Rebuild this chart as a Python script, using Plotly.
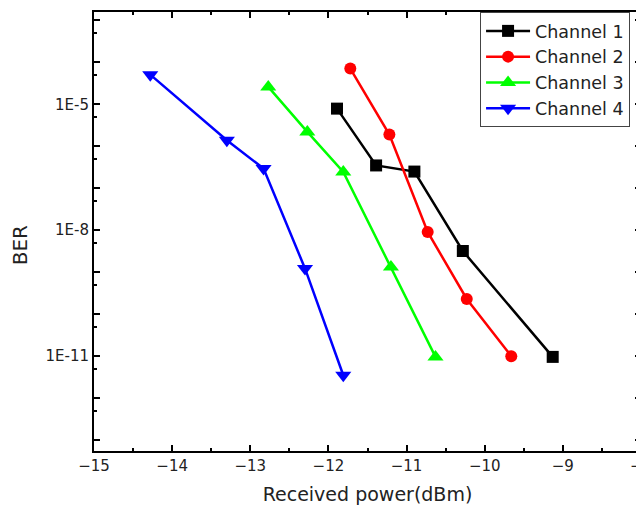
import plotly.graph_objects as go

# Data
ch1_x = [-11.89, -11.39, -10.9, -10.28, -9.13]
ch1_y = [7.9e-6, 3.5e-7, 2.5e-7, 3.2e-9, 9.6e-12]
ch2_x = [-11.72, -11.22, -10.73, -10.23, -9.66]
ch2_y = [7.1e-5, 1.9e-6, 9.1e-9, 2.3e-10, 1.0e-11]
ch3_x = [-12.77, -12.27, -11.81, -11.2, -10.63]
ch3_y = [2.6e-5, 2.2e-6, 2.45e-7, 1.34e-9, 9.6e-12]
ch4_x = [-14.28, -13.3, -12.83, -12.3, -11.81]
ch4_y = [5.1e-5, 1.39e-6, 2.95e-7, 1.23e-9, 3.5e-12]

names = ["Channel 1", "Channel 2", "Channel 3", "Channel 4"]
colors = ["#000000", "#ff0000", "#00ff00", "#0000ff"]
symbols = ["square", "circle", "triangle-up", "triangle-down"]
msizes = [12, 12, 14, 14]

x_ticks = [-15, -14, -13, -12, -11, -10, -9, -8]
y_decades = [10.0 ** e for e in range(-13, -2)]
y_labels = {-5: "1E-5", -8: "1E-8", -11: "1E-11"}
y_ticktext = [y_labels.get(e, "") for e in range(-13, -2)]
y_minor = [5 * 10.0 ** e for e in range(-14, -2)]

fig = go.Figure()
for xs, ys, n, c, s, ms in zip([ch1_x, ch2_x, ch3_x, ch4_x],
                               [ch1_y, ch2_y, ch3_y, ch4_y],
                               names, colors, symbols, msizes):
    fig.add_trace(go.Scatter(x=xs, y=ys, name=n, mode="lines+markers",
                             line=dict(color=c, width=2.5),
                             marker=dict(symbol=s, size=ms, color=c)))

font = "DejaVu Sans, sans-serif"
fig.update_layout(
    width=636, height=501,
    margin=dict(l=86, r=3, t=4, b=58),
    plot_bgcolor="white", paper_bgcolor="white",
    font=dict(family=font, size=15, color="#222"),
    showlegend=True,
    legend=dict(x=0.980, y=1.0, xanchor="right", yanchor="top",
                bgcolor="white", bordercolor="#444", borderwidth=1,
                font=dict(size=17.5, color="#222"), itemwidth=44,
                tracegroupgap=0),
    xaxis=dict(range=[-15, -8], tickvals=x_ticks, automargin=False,
               ticklabeloverflow="allow",
               ticks="inside", ticklen=6, tickwidth=2, tickcolor="black",
               showline=True, linecolor="black", linewidth=2, mirror="ticks",
               showgrid=False, zeroline=False,
               minor=dict(dtick=0.5, tick0=-15, ticks="inside", ticklen=3,
                          tickwidth=2, tickcolor="black"),
               tickfont=dict(size=15),
               title=dict(text="Received power(dBm)", font=dict(size=19), standoff=14)),
    yaxis=dict(type="log", range=[-13.26, -2.8], automargin=False,
               tickvals=y_decades, ticktext=y_ticktext,
               ticks="inside", ticklen=6, tickwidth=2, tickcolor="black",
               showline=True, linecolor="black", linewidth=2, mirror="ticks",
               showgrid=False, zeroline=False,
               minor=dict(tickvals=y_minor, ticks="inside", ticklen=3,
                          tickwidth=2, tickcolor="black"),
               tickfont=dict(size=15)),
    annotations=[dict(text="BER", xref="paper", yref="paper",
                      x=-0.135, y=0.469, xanchor="center", yanchor="middle",
                      textangle=-90, showarrow=False,
                      font=dict(size=20, color="#222", family=font))],
)

fig.write_html("out.html")
